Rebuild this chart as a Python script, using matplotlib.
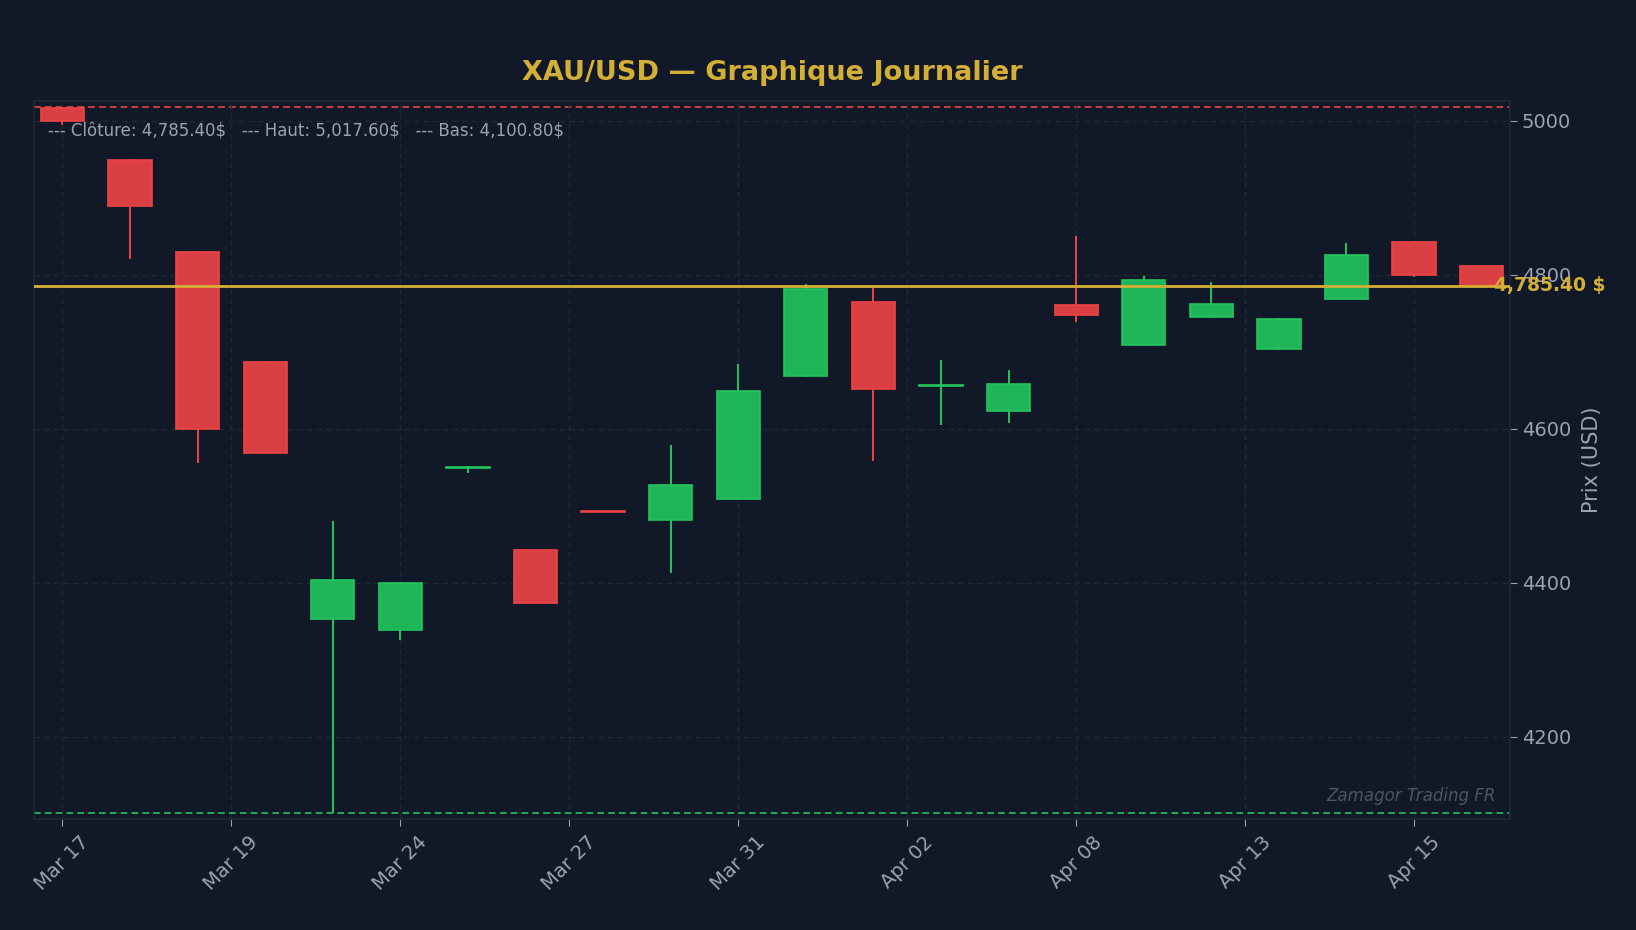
import numpy as np
import matplotlib
matplotlib.use("Agg")
import matplotlib.pyplot as plt

# daily OHLC
dates = ["Mar 17", "Mar 18", "Mar 19", "Mar 20", "Mar 23", "Mar 24", "Mar 25", "Mar 26",
         "Mar 27", "Mar 30", "Mar 31", "Apr 01", "Apr 02", "Apr 06", "Apr 07", "Apr 08",
         "Apr 09", "Apr 10", "Apr 13", "Apr 14", "Apr 15", "Apr 16"]
opens = [5016.0, 4949.0, 4830.0, 4687.0, 4352.5, 4338.0, 4549.0, 4442.0, 4492.5, 4482.0, 4509.0,
         4668.0, 4765.0, 4655.5, 4623.0, 4760.0, 4709.0, 4745.0, 4703.0, 4769.0, 4843.0, 4811.0]
highs = [5017.6, 4950.0, 4831.0, 4688.0, 4480.0, 4401.0, 4552.0, 4443.0, 4493.0, 4579.0, 4684.0,
         4788.0, 4783.0, 4689.0, 4676.0, 4850.0, 4798.0, 4790.0, 4744.0, 4841.0, 4844.0, 4811.5]
lows = [4994.0, 4821.0, 4555.0, 4568.0, 4100.8, 4326.0, 4542.0, 4373.0, 4491.5, 4413.0, 4508.0,
        4667.0, 4558.0, 4605.0, 4608.0, 4739.0, 4708.0, 4744.0, 4702.0, 4768.0, 4797.0, 4785.0]
closes = [4999.0, 4889.0, 4600.0, 4569.0, 4404.0, 4400.0, 4550.0, 4374.0, 4492.0, 4527.0, 4649.0,
          4782.0, 4651.0, 4656.5, 4658.0, 4748.0, 4793.0, 4762.0, 4743.0, 4825.0, 4799.0, 4785.4]
tick_pos = [0, 2.5, 5, 7.5, 10, 12.5, 15, 17.5, 20]

BG = "#111827"
GRID = "#1f2937"
TXT = "#9ca3af"
GOLD = "#d4af37"
RED = "#ef4444"
GREEN = "#22c55e"
RED_FILL = "#da4043"
GREEN_FILL = "#21b55a"

last = closes[-1]
hi = max(highs)
lo = min(lows)

fig = plt.figure(figsize=(16.36, 9.30), dpi=100, facecolor=BG)
ax = fig.add_axes([0.0208, 0.1194, 0.9022, 0.772])
ax.set_facecolor(BG)

x = np.arange(len(dates))
o = np.array(opens)
c = np.array(closes)
up = c >= o
edge = np.where(up, GREEN, RED)
fill = np.where(up, GREEN_FILL, RED_FILL)

ax.vlines(x, lows, highs, colors=edge, linewidth=1.4, zorder=2)
bottom = np.minimum(o, c)
height = np.maximum(np.abs(c - o), 0.4)
ax.bar(x, height, bottom=bottom, width=0.64, color=fill,
       edgecolor=edge, linewidth=1.2, zorder=3)

ax.axhline(last, color=GOLD, linewidth=2, zorder=4)
ax.axhline(hi, color=RED, linewidth=1.2, linestyle=(0, (4, 2.5)), zorder=1)
ax.axhline(lo, color=GREEN, linewidth=1.2, linestyle=(0, (4, 2.5)), zorder=1)

ax.set_xlim(-0.42, 21.42)
ax.set_ylim(lo - 7.7, hi + 8)

ax.set_xticks(tick_pos)
ax.set_xticklabels([dates[round(t)] for t in tick_pos], rotation=45, ha="center")
ax.set_yticks([4200, 4400, 4600, 4800, 5000])
ax.yaxis.tick_right()
ax.yaxis.set_label_position("right")
ax.tick_params(axis="both", colors=TXT, labelsize=14, length=5)
ax.tick_params(axis="x", pad=5)
ax.set_ylabel("Prix (USD)", color=TXT, fontsize=15, labelpad=8)

ax.grid(True, color=GRID, linestyle=(0, (4, 3)), linewidth=1.0, zorder=0)
for s in ax.spines.values():
    s.set_color(GRID)
    s.set_linewidth(1.2)

ax.set_title("XAU/USD — Graphique Journalier", color=GOLD, fontsize=19.5,
             fontweight="bold", pad=15)

ax.text(0.0095, 0.958,
        f"--- Clôture: {last:,.2f}$   --- Haut: {hi:,.2f}$   --- Bas: {lo:,.2f}$",
        transform=ax.transAxes, color=TXT, fontsize=12, va="center", ha="left")
ax.text(0.989, last, f"{last:,.2f} $", transform=ax.get_yaxis_transform(),
        color=GOLD, fontsize=13.5, fontweight="bold", va="center", ha="left",
        clip_on=False, zorder=5)
ax.text(0.99, 0.032, "Zamagor Trading FR", transform=ax.transAxes, color="#4b5563",
        fontsize=12, style="italic", ha="right", va="center")

fig.savefig("out.png", dpi=100, facecolor=BG)
